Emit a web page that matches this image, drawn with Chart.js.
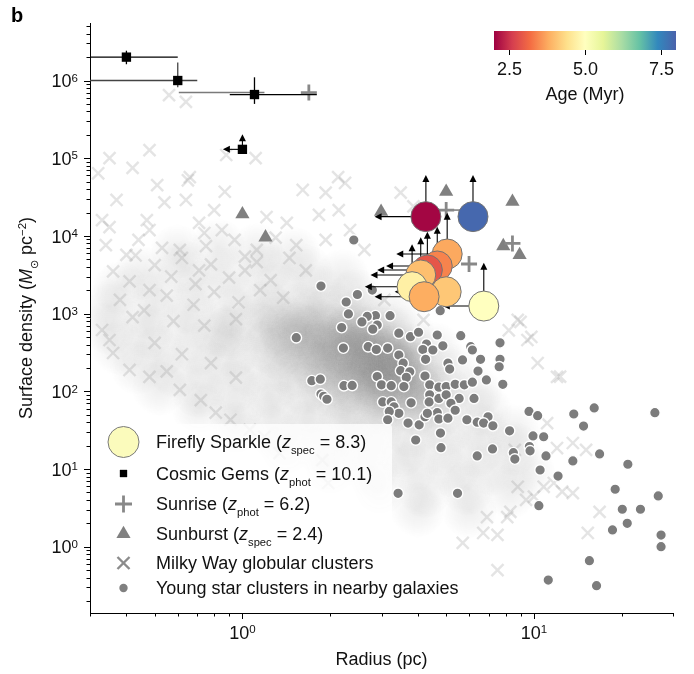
<!DOCTYPE html>
<html>
<head>
<meta charset="utf-8">
<script src="https://cdn.jsdelivr.net/npm/chart.js@4.4.0/dist/chart.umd.min.js"></script>
<style>
  html, body { margin: 0; padding: 0; background: #fff; }
  canvas { display: block; }
</style>
</head>
<body>
<canvas id="myChart" width="694" height="674"></canvas>
<script>
// ---- data (radius in pc, surface density in Msun/pc^2) ----

// Firefly Sparkle clusters, age in Myr, limits drawn as arrows
const fireflyR = [4.26, 6.18, 5.04, 4.66, 4.31, 4.09, 3.82, 5.0, 4.2, 6.73];
const fireflySigma = [17700, 17700, 5850, 4100, 3640, 3140, 2220, 1910, 1650, 1250];
const fireflyAge = [2.05, 7.9, 3.75, 3.4, 2.9, 4.0, 4.7, 4.1, 3.8, 5.0];
const fireflyRUpper = [2.84, null, 3.37, 3.11, 2.90, 2.75, 2.63, 3.33, 2.84, 4.87];
const fireflySigmaLower = [60800, 60800, 19900, 13100, 11300, 9600, 7800, null, null, 4500];

// Cosmic Gems
const gemsR = [0.40, 0.60, 1.10, 1.00];
const gemsSigma = [2.0e6, 1.0e6, 6.6e5, 1.3e5];
const gemsRLow = [0.25, 0.25, 0.905, null];
const gemsRHigh = [0.60, 0.70, 1.80, null];
const gemsSigmaLow = [1.62e6, 8.2e5, 5.0e5, null];
const gemsSigmaHigh = [2.42e6, 1.71e6, 1.1e6, null];
const gemsRUpper = [null, null, null, 0.857];
const gemsSigmaLower = [null, null, null, 2.03e5];

// Sunrise
const sunriseR = [1.69, 5.0, 5.99, 8.44];
const sunriseSigma = [7.0e5, 2.15e4, 4.35e3, 8.0e3];
const sunriseRLow = [0.605, 4.6, null, null];
const sunriseRHigh = [1.19, 5.6, null, null];

// Sunburst
const sunburstR = [1.0, 1.20, 5.0, 2.99, 8.44, 7.85, 8.93];
const sunburstSigma = [1.9e4, 9.6e3, 3.7e4, 2.05e4, 2.76e4, 7.4e3, 5.7e3];

// Young star clusters in nearby galaxies
const youngR = [1.86,2.41,2.48,2.27,2.31,2.79,2.86,2.68,2.57,2.90,
  2.80,3.21,2.19,1.53,2.22,2.70,2.88,3.15,3.44,3.77,
  4.02,4.66,5.61,4.28,4.16,4.50,4.87,6.07,6.15,7.65,
  3.44,3.56,4.25,5.07,5.14,5.69,6.56,7.65,7.60,6.43,
  3.49,3.75,3.65,2.90,3.00,3.58,3.24,1.73,1.85,2.23,
  2.38,1.86,1.90,1.95,4.23,4.39,4.72,5.00,5.37,5.77,
  6.15,6.87,7.82,4.39,4.37,4.72,5.00,5.54,6.23,3.03,
  3.24,3.31,3.44,3.19,3.15,3.79,3.70,4.04,4.23,4.66,
  4.72,5.07,5.19,5.37,5.89,6.39,6.96,6.72,7.23,8.25,
  4.78,3.93,4.31,4.80,6.39,7.21,8.50,8.60,9.62,10.3,
  9.93,10.8,9.65,9.70,11.0,10.5,12.1,13.7,16.1,14.8,
  16.8,13.6,21.0,26.0,19.0,26.7,20.1,23.2,20.9,18.6,
  27.3,27.3,10.4,15.5,11.2,16.4,3.42,5.47,4.77];
const youngSigma = [2260,8850,1760,1410,990,2010,940,920,780,713,
  630,940,660,490,360,375,345,360,560,505,
  575,530,520,405,345,340,385,375,340,420,
  293,230,258,230,193,253,258,258,207,182,
  184,178,151,155,121,115,118,137,143,118,
  119,92,86,79,157,121,113,115,123,121,
  131,140,123,90,73,81,90,81,81,73,
  73,63,52,55,43,71,39,37,47,53,
  44,45,70,57,43,40,47,39,36,31,
  29,23.6,52,18.8,14.7,18.1,16.2,13.4,55,48.5,
  26.6,26,19.4,17.1,14.7,9.7,8.1,51,61,35.7,
  15.6,12.7,11.5,53,5.48,4.5,3.03,3.03,2.0,1.64,
  1.41,1.0,3.37,0.66,0.372,0.315,4.86,4.86,1090];

// Milky Way globular clusters: scattered ones
const mwR = [0.56,0.64,0.32,0.35,0.48,0.42,0.88,1.11,0.66,2.13,
  0.51,0.65,0.87,0.54,0.64,0.37,0.80,1.61,1.93,1.21,
  1.42,1.83,2.14,0.33,0.35,0.47,0.48,0.71,0.74,0.85,
  0.94,0.44,0.34,0.40,0.61,1.12,1.53,1.93,2.34,2.62,
  2.25,3.49,3.86,9.8,10.3,12.0,11.1,15.1,13.6,16.8,
  15.3,12.5,12.0,10.8,9.4,8.3,6.9,8.1,7.5,5.7,
  7.5,6.7,8.8,13.6,0.35,0.33,0.36,0.41,0.48,0.61,
  0.72,0.81,0.91,1.06,1.19,1.34,1.97,1.88,9.0,12.3,
  9.5,8.6,11.7,10.0,0.48,0.71,1.12,1.65,3.07,4.18,
  8.8,8.2,
  0.36,0.41,0.50,0.57,0.62,0.69,0.78,0.90,1.02,1.25,
  1.45,0.38,0.46,0.55,0.68,0.80,0.97,1.15,1.38,0.43,
  0.53,0.75,1.02,1.30,0.58,0.74,0.95,0.42,0.50,0.62,
  0.78,0.55,0.95];
const mwSigma = [6.5e5,5.3e5,6.4e4,1.0e5,1.27e5,7.5e4,1.1e5,1.0e5,5.7e4,5.7e4,
  4.5e4,5.2e4,3.7e4,2.7e4,2.9e4,2.9e4,2.15e4,3.9e4,3.6e4,1.75e4,
  1.47e4,1.86e4,2.15e4,1.6e4,1.3e4,1.6e4,1.19e4,1.47e4,1.09e4,1.19e4,
  8900,8900,7600,5700,6600,6600,7600,8900,1.19e4,6600,
  4.8e4,3.6e4,2.4e4,500,231,153,39,17.6,21.6,2.8,
  1.5,5.1,18.6,5.9,4.0,2.8,2.4,2.4,1.42,1.12,
  0.50,1.5,5.9,4.9,457,615,311,188,153,104,
  77,53,43,32,26,16,6.6,13,780,154,
  457,17.6,6.6,4.4,2000,3600,4600,3600,1500,830,
  830,610,
  3500,2600,4200,3000,5200,2400,4300,2900,3600,2700,
  5200,1500,1100,1700,1300,1900,1400,2000,1600,5600,
  7000,7400,5400,9500,800,700,850,900,420,300,
  230,180,150];

// Milky Way globular clusters: dense part of the sample
const mwDenseR = [0.60,0.83,1.12,1.50,
  0.45,0.63,0.87,1.20,1.66,2.20,
  0.38,0.52,0.72,1.00,1.35,1.82,2.45,
  0.35,0.48,0.66,0.89,1.20,1.30,1.58,1.78,2.04,2.60,3.20,
  0.35,0.47,0.63,0.83,0.90,1.10,1.26,1.41,1.62,1.86,2.10,2.40,2.75,3.10,3.70,
  0.38,0.52,0.71,0.93,1.23,1.32,1.58,1.74,2.10,2.29,2.70,3.00,3.55,3.80,4.60,
  0.44,0.59,0.79,1.05,1.38,1.50,1.82,2.00,2.34,2.63,3.10,3.47,4.10,5.20,
  0.52,0.71,0.93,1.23,1.62,1.90,2.14,2.50,2.82,3.30,3.72,4.30,4.90,6.30,
  0.71,0.95,1.29,1.70,2.24,2.40,2.95,3.16,3.90,4.17,5.10,6.80,
  0.95,1.26,1.66,2.19,2.88,3.80,5.00,6.60,8.50,
  1.41,1.90,2.57,3.47,4.68,6.30,8.50,
  2.00,2.75,3.80,5.25,7.20,9.50,
  2.95,4.20,5.90,8.30,
  4.00,6.00,
  1.45,1.90,2.50,1.70,2.20,2.80,3.30,2.00,2.60,3.20,3.80,1.60,2.30,2.90,
  1.55,1.95,2.35,2.65,3.00,1.80,2.15,2.55,3.30,3.60,2.00,2.45,2.90,3.40,3.90,
  2.30,2.75,3.25,3.70,4.20,3.00,3.60,4.30,
  2.20,2.70,3.10,2.50,3.00,3.50,2.60,3.20];
const mwDenseSigma = [6200,7400,6400,5800,
  3300,3900,3500,3800,3400,3000,
  2100,1900,2200,1800,2100,1900,1700,
  1200,1000,1150,1050,1200,950,1100,1000,1150,1050,950,
  650,580,640,600,560,670,590,620,560,650,600,640,580,620,560,
  360,320,350,330,370,310,345,330,360,315,350,330,360,320,340,
  200,180,195,185,200,175,195,180,200,185,190,180,195,185,
  110,100,112,98,108,104,95,110,100,106,98,108,100,96,
  60,55,62,56,58,54,60,56,58,55,60,56,
  33,30,34,31,33,30,32,31,30,
  18,17,19,17,18,17,18,
  10,9.5,10.5,9.5,10,9.5,
  5.5,5.2,5.6,5.2,
  3.0,2.9,
  450,420,460,250,260,240,250,140,150,140,145,800,820,130,
  620,560,600,500,450,380,330,360,300,270,230,210,200,180,170,
  120,115,95,110,120,75,70,75,
  480,420,350,280,260,230,170,160];

// axes and colour bar
const xTickValues = [1, 10];
const xTickExp = ['0', '1'];
const yTickValues = [1, 10, 100, 1e3, 1e4, 1e5, 1e6];
const yTickExp = ['0', '1', '2', '3', '4', '5', '6'];
const ageMin = 2.0, ageMax = 8.0;
const ageTicks = [2.5, 5.0, 7.5];
const ageTickLabels = ['2.5', '5.0', '7.5'];

// ---- helpers ----
const FONT = "'Liberation Sans', Arial, sans-serif";
const spectral = ['#9e0142','#d53e4f','#f46d43','#fdae61','#fee08b','#ffffbf',
  '#e6f598','#abdda4','#66c2a5','#3288bd','#4a62ab'];

function hexRgb(h) {
  return [parseInt(h.slice(1, 3), 16), parseInt(h.slice(3, 5), 16), parseInt(h.slice(5, 7), 16)];
}
function ageColor(age) {
  let t = (age - ageMin) / (ageMax - ageMin);
  t = Math.max(0, Math.min(1, t));
  const f = t * (spectral.length - 1);
  const i = Math.min(Math.floor(f), spectral.length - 2);
  const u = f - i;
  const a = hexRgb(spectral[i]), b = hexRgb(spectral[i + 1]);
  return 'rgb(' + a.map((c, k) => Math.round(c + (b[k] - c) * u)).join(',') + ')';
}
const toPts = (xs, ys) => xs.map((v, i) => ({ x: v, y: ys[i] }));

function makeBlob() {
  const c = document.createElement('canvas');
  c.width = c.height = 56;
  const g = c.getContext('2d');
  const gr = g.createRadialGradient(28, 28, 0, 28, 28, 28);
  gr.addColorStop(0, 'rgba(110,110,110,0.12)');
  gr.addColorStop(0.5, 'rgba(110,110,110,0.065)');
  gr.addColorStop(1, 'rgba(110,110,110,0)');
  g.fillStyle = gr;
  g.fillRect(0, 0, 56, 56);
  return c;
}

// text with italic / sub / sup pieces
function drawRich(ctx, parts, x, y, size, align) {
  const fonts = parts.map(p => {
    const st = p[1] || '';
    const fs = st === 'sub' ? size * 0.62 : st === 'sup' ? size * 0.64 : size;
    return (st === 'i' ? 'italic ' : '') + fs.toFixed(1) + 'px ' + FONT;
  });
  let w = 0;
  parts.forEach((p, i) => { ctx.font = fonts[i]; w += ctx.measureText(p[0]).width; });
  let cx = align === 'center' ? x - w / 2 : align === 'right' ? x - w : x;
  ctx.textAlign = 'left';
  ctx.textBaseline = 'alphabetic';
  parts.forEach((p, i) => {
    const st = p[1] || '';
    const dy = st === 'sub' ? size * 0.33 : st === 'sup' ? -size * 0.31 : 0;
    ctx.font = fonts[i];
    ctx.fillText(p[0], cx, y + dy);
    cx += ctx.measureText(p[0]).width;
  });
  return w;
}

function head(ctx, x, y, dir) {
  ctx.beginPath();
  if (dir === 'up') { ctx.moveTo(x, y); ctx.lineTo(x - 3.5, y + 7); ctx.lineTo(x + 3.5, y + 7); }
  else { ctx.moveTo(x, y); ctx.lineTo(x + 7, y - 3.5); ctx.lineTo(x + 7, y + 3.5); }
  ctx.closePath();
  ctx.fill();
}
function arrowUp(ctx, x, y0, y1) {
  ctx.beginPath(); ctx.moveTo(x, y0); ctx.lineTo(x, y1 + 6); ctx.stroke();
  head(ctx, x, y1, 'up');
}
function arrowLeft(ctx, y, x0, x1) {
  ctx.beginPath(); ctx.moveTo(x0, y); ctx.lineTo(x1 + 6, y); ctx.stroke();
  head(ctx, x1, y, 'left');
}
function hline(ctx, y, x0, x1) { ctx.beginPath(); ctx.moveTo(x0, y); ctx.lineTo(x1, y); ctx.stroke(); }
function vline(ctx, x, y0, y1) { ctx.beginPath(); ctx.moveTo(x, y0); ctx.lineTo(x, y1); ctx.stroke(); }

// error bars and limit arrows, drawn just under their own markers
const limitsPlugin = {
  id: 'limits',
  beforeDatasetDraw(chart, args) {
    const { ctx, chartArea: a, scales: { x, y } } = chart;
    ctx.save();
    ctx.beginPath();
    ctx.rect(a.left, a.top, a.right - a.left, a.bottom - a.top);
    ctx.clip();
    ctx.lineWidth = 1.1;
    ctx.strokeStyle = '#000';
    ctx.fillStyle = '#000';
    if (args.index === 0) {
      fireflyR.forEach((r, i) => {
        const cx = x.getPixelForValue(r), cy = y.getPixelForValue(fireflySigma[i]);
        if (fireflyRUpper[i] != null) arrowLeft(ctx, cy, cx, x.getPixelForValue(fireflyRUpper[i]));
        if (fireflySigmaLower[i] != null) arrowUp(ctx, cx, cy, y.getPixelForValue(fireflySigmaLower[i]));
      });
    } else if (args.index === 1) {
      gemsR.forEach((r, i) => {
        const cx = x.getPixelForValue(r), cy = y.getPixelForValue(gemsSigma[i]);
        ctx.strokeStyle = i === 1 ? '#444' : '#000';
        ctx.lineWidth = 1.3;
        if (gemsRLow[i] != null) hline(ctx, cy, x.getPixelForValue(gemsRLow[i]), x.getPixelForValue(gemsRHigh[i]));
        if (gemsSigmaLow[i] != null) vline(ctx, cx, y.getPixelForValue(gemsSigmaLow[i]), y.getPixelForValue(gemsSigmaHigh[i]));
        ctx.strokeStyle = '#000';
        ctx.lineWidth = 1.1;
        if (gemsRUpper[i] != null) arrowLeft(ctx, cy, cx, x.getPixelForValue(gemsRUpper[i]));
        if (gemsSigmaLower[i] != null) arrowUp(ctx, cx, cy, y.getPixelForValue(gemsSigmaLower[i]));
      });
    } else if (args.index === 2) {
      ctx.strokeStyle = '#7a7a7a';
      ctx.lineWidth = 1.5;
      sunriseR.forEach((r, i) => {
        if (sunriseRLow[i] == null) return;
        const cy = y.getPixelForValue(sunriseSigma[i]);
        hline(ctx, cy, x.getPixelForValue(sunriseRLow[i]), x.getPixelForValue(sunriseRHigh[i]));
      });
    }
    ctx.restore();
  }
};

// hand-made legend (the labels need subscripts)
const legendItems = [
  { y: 442, style: 'circle', r: 15.5, fill: '#fbfbbc', stroke: '#7a7a7a', lw: 1,
    parts: [['Firefly Sparkle ('], ['z', 'i'], ['spec', 'sub'], [' = 8.3)']] },
  { y: 473.5, style: 'rect', r: 5.2, fill: '#000', stroke: '#000', lw: 0,
    parts: [['Cosmic Gems ('], ['z', 'i'], ['phot', 'sub'], [' = 10.1)']] },
  { y: 504, style: 'cross', r: 8.5, fill: '#888', stroke: '#888', lw: 2.8,
    parts: [['Sunrise ('], ['z', 'i'], ['phot', 'sub'], [' = 6.2)']] },
  { y: 534, style: 'triangle', r: 8.2, fill: '#808080', stroke: '#808080', lw: 0,
    parts: [['Sunburst ('], ['z', 'i'], ['spec', 'sub'], [' = 2.4)']] },
  { y: 563, style: 'crossRot', r: 8.5, fill: '#8c8c8c', stroke: '#8c8c8c', lw: 2.4,
    parts: [['Milky Way globular clusters']] },
  { y: 588, style: 'circle', r: 4.2, fill: '#808080', stroke: '#808080', lw: 0,
    parts: [['Young star clusters in nearby galaxies']] }
];

const legendPlugin = {
  id: 'richLegend',
  afterDatasetsDraw(chart) {
    const ctx = chart.ctx;
    ctx.save();
    ctx.fillStyle = 'rgba(255,255,255,0.8)';
    ctx.beginPath();
    ctx.roundRect(100, 424, 292, 178, 4);
    ctx.fill();
    legendItems.forEach(it => {
      ctx.fillStyle = it.fill;
      ctx.strokeStyle = it.stroke;
      ctx.lineWidth = it.lw;
      Chart.helpers.drawPoint(ctx, { pointStyle: it.style, radius: it.r, borderWidth: it.lw, rotation: 0 }, 123.5, it.y);
      ctx.fillStyle = '#111';
      drawRich(ctx, it.parts, 156, it.y + 6.3, 18, 'left');
    });
    ctx.restore();
  }
};

// log ticks, tick labels, axis titles, panel letter and colour bar
const decorPlugin = {
  id: 'decor',
  afterDraw(chart) {
    const { ctx, chartArea: a, scales: { x, y } } = chart;
    ctx.save();
    ctx.strokeStyle = '#000';
    ctx.fillStyle = '#111';
    ctx.lineWidth = 1;
    for (let k = -1; k <= 1; k++) {
      for (let m = 1; m <= 9; m++) {
        const v = m * Math.pow(10, k);
        if (v < x.min * 0.999 || v > x.max * 1.001) continue;
        const px = Math.round(x.getPixelForValue(v)) + 0.5;
        vline(ctx, px, a.bottom, a.bottom + (m === 1 ? 6 : 3.5));
      }
    }
    for (let k = -1; k <= 6; k++) {
      for (let m = 1; m <= 9; m++) {
        const v = m * Math.pow(10, k);
        if (v < y.min * 0.999 || v > y.max * 1.001) continue;
        const py = Math.round(y.getPixelForValue(v)) + 0.5;
        hline(ctx, py, a.left - (m === 1 ? 6 : 3.5), a.left);
      }
    }
    xTickValues.forEach((v, i) => {
      drawRich(ctx, [['10'], [xTickExp[i], 'sup']], x.getPixelForValue(v), a.bottom + 26, 18, 'center');
    });
    yTickValues.forEach((v, i) => {
      drawRich(ctx, [['10'], [yTickExp[i], 'sup']], a.left - 12, y.getPixelForValue(v) + 6.8, 18, 'right');
    });
    drawRich(ctx, [['Radius (pc)']], (a.left + a.right) / 2, 665, 18, 'center');
    ctx.save();
    ctx.translate(32, (a.top + a.bottom) / 2);
    ctx.rotate(-Math.PI / 2);
    drawRich(ctx, [['Surface density ('], ['M', 'i'], ['\u2299', 'sub'], [' pc'], ['\u22122', 'sup'], [')']], 0, 0, 18, 'center');
    ctx.restore();

    ctx.font = 'bold 20px ' + FONT;
    ctx.fillStyle = '#000';
    ctx.fillText('b', 11, 22);

    // colour bar
    const cb = { left: 494, right: 676, top: 31, bottom: 50 };
    const grad = ctx.createLinearGradient(cb.left, 0, cb.right, 0);
    spectral.forEach((c, i) => grad.addColorStop(i / (spectral.length - 1), c));
    ctx.fillStyle = grad;
    ctx.fillRect(cb.left, cb.top, cb.right - cb.left, cb.bottom - cb.top);
    ctx.fillStyle = '#111';
    ageTicks.forEach((v, i) => {
      const px = Math.round(cb.left + (v - ageMin) / (ageMax - ageMin) * (cb.right - cb.left)) + 0.5;
      vline(ctx, px, cb.bottom, cb.bottom + 5);
      drawRich(ctx, [[ageTickLabels[i]]], px, 75, 18, 'center');
    });
    drawRich(ctx, [['Age (Myr)']], (cb.left + cb.right) / 2, 99.5, 18, 'center');
    ctx.restore();
  }
};

const ctx = document.getElementById('myChart');
new Chart(ctx, {
  type: 'scatter',
  data: {
    datasets: [
      { label: 'Firefly Sparkle', data: toPts(fireflyR, fireflySigma), order: 0,
        pointRadius: 15, pointBackgroundColor: fireflyAge.map(ageColor),
        pointBorderColor: '#737373', pointBorderWidth: 1 },
      { label: 'Cosmic Gems', data: toPts(gemsR, gemsSigma), order: 1,
        pointStyle: 'rect', pointRadius: 6.6, pointBackgroundColor: '#000',
        pointBorderColor: '#000', pointBorderWidth: 0 },
      { label: 'Sunrise', data: toPts(sunriseR, sunriseSigma), order: 2,
        pointStyle: 'cross', pointRadius: 8, pointBorderColor: '#888', pointBorderWidth: 2.8 },
      { label: 'Sunburst', data: toPts(sunburstR, sunburstSigma), order: 3,
        pointStyle: 'triangle', pointRadius: 8.2, pointBackgroundColor: '#808080',
        pointBorderWidth: 0 },
      { label: 'Young star clusters', data: toPts(youngR, youngSigma), order: 4,
        pointRadius: 5.3, pointBackgroundColor: '#7c7c7c', pointBorderColor: '#fff',
        pointBorderWidth: 1.4 },
      { label: 'Milky Way globular clusters', data: toPts(mwR, mwSigma), order: 5, clip: 0,
        pointStyle: 'crossRot', pointRadius: 8.5, pointBorderColor: 'rgba(150,150,150,0.26)',
        pointBorderWidth: 2.4 },
      { label: 'Milky Way globular clusters (dense)', data: toPts(mwDenseR, mwDenseSigma), order: 6,
        clip: 0, pointStyle: makeBlob(), pointRadius: 20 }
    ]
  },
  options: {
    responsive: false,
    animation: false,
    devicePixelRatio: 1,
    events: [],
    layout: { padding: { left: 0, top: 23, right: 10, bottom: 0 } },
    plugins: { legend: { display: false }, tooltip: { enabled: false } },
    scales: {
      x: {
        type: 'logarithmic', min: 0.3, max: 30,
        grid: { display: false },
        border: { display: true, color: '#000', width: 1 },
        ticks: { display: false },
        afterFit: s => { s.height = 61; }
      },
      y: {
        type: 'logarithmic', min: 0.14, max: 5.5e6,
        grid: { display: false },
        border: { display: true, color: '#000', width: 1 },
        ticks: { display: false },
        afterFit: s => { s.width = 90; }
      }
    }
  },
  plugins: [limitsPlugin, legendPlugin, decorPlugin]
});
</script>
</body>
</html>
